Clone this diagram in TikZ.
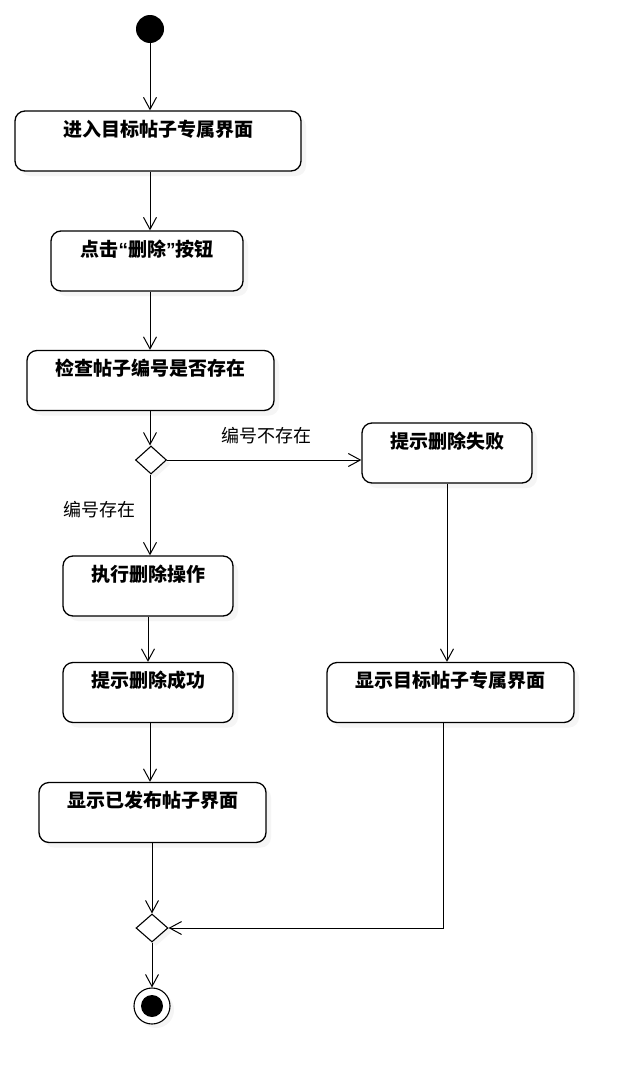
\documentclass[tikz,border=0pt]{standalone}
\usepackage{fontspec}
\usepackage{tikz}
\usetikzlibrary{arrows.meta,shapes.geometric,shadows}
\newfontfamily\cjk{Noto Sans CJK SC}
\newfontfamily\quotefont{Liberation Sans}

\tikzset{
  actbox/.style={draw, line width=1.3pt, rounded corners=10pt, fill=white, inner sep=0pt,
    text height=25pt, text depth=35pt, font=\cjk\bfseries\fontsize{19}{22}\selectfont,
    drop shadow={shadow xshift=5pt, shadow yshift=-5pt, opacity=0.08}},
  choice/.style={diamond, draw, line width=1.1pt, fill=white, inner sep=0pt,
    drop shadow={shadow xshift=4pt, shadow yshift=-4pt, opacity=0.08}},
  flow/.style={line width=1pt, -{Straight Barb[length=12pt,width=13pt,line width=1pt]}},
  guard/.style={font=\cjk\fontsize{18}{20}\selectfont, inner sep=0pt}
}

\begin{document}
\begin{tikzpicture}[x=1pt, y=-1pt]

\fill[white] (0,0) rectangle (634,1084);
\useasboundingbox (0,0) rectangle (634,1084);



\node (start) at (150, 29) [circle, fill, inner sep=0pt, minimum size=28pt] {};

\node (b1) at (158, 141) [actbox, minimum width=286pt] {进入目标帖子专属界面};

\node (b2) at (147, 261) [actbox, minimum width=192pt] {点击{\quotefont\bfseries “}删除{\quotefont\bfseries ”}按钮};

\node (b3) at (150.5, 380.5) [actbox, minimum width=247pt] {检查帖子编号是否存在};

\node (d1) at (151, 460) [choice, minimum width=31pt, minimum height=28pt] {};

\node (b4) at (447, 453) [actbox, minimum width=170pt] {提示删除失败};

\node (b5) at (148, 586) [actbox, minimum width=170pt] {执行删除操作};

\node (b6) at (148, 692.5) [actbox, minimum width=170pt] {提示删除成功};

\node (b7) at (450.5, 692.5) [actbox, minimum width=247pt] {显示目标帖子专属界面};

\node (b8) at (152.5, 812.5) [actbox, minimum width=227pt] {显示已发布帖子界面};

\node (d2) at (152, 928) [choice, minimum width=32pt, minimum height=28pt] {};

\node (end) at (152, 1006) [circle, draw, line width=1.1pt, fill=white, inner sep=0pt, minimum size=36pt,
  drop shadow={shadow xshift=4pt, shadow yshift=-4pt, opacity=0.08}] {};
\node (endin) at (end) [circle, fill, inner sep=0pt, minimum size=22pt] {};



\node (yes) at (99, 510) [guard] {编号存在};

\node (no) at (266, 436) [guard] {编号不存在};



\draw [flow] (start) -- (b1.north -| start);

\draw [flow] (b1.south -| start) -- (b2.north -| start);

\draw [flow] (b2.south -| start) -- (b3.north -| start);

\draw [flow] (b3.south -| start) -- (d1.north -| start);

\draw [flow] (d1.east) -- (b4.west |- d1.east);

\draw [flow] (d1.south -| start) -- (b5.north -| start);

\draw [flow] (b5.south) -- (b6.north);

\draw [flow] (b6.south -| start) -- (b8.north -| start);

\draw [flow] (b8.south -| d2) -- (d2.north);

\draw [flow] (b4.south) -- (b4.south |- b7.north);

\draw [flow] ([xshift=-7pt]b7.south) |- (d2.east);

\draw [flow] (d2.south) -- (end.north);


\end{tikzpicture}
\end{document}
